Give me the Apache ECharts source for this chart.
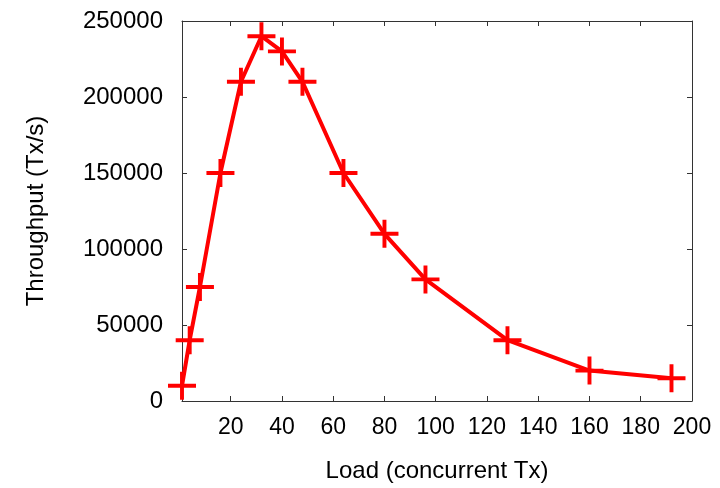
<!DOCTYPE html>
<html>
<head>
<meta charset="utf-8">
<script src="https://cdn.jsdelivr.net/npm/echarts@6/dist/echarts.min.js"></script>
<style>html,body{margin:0;padding:0;background:#fff}#c{width:720px;height:488px}</style>
</head>
<body>
<div id="c"></div>
<script>
const loads = [1, 4, 8, 16, 24, 32, 40, 48, 64, 80, 96, 128, 160, 192];
const throughput = [10000, 40000, 75000, 150000, 210000, 240000, 230000, 210000, 150000, 110000, 80000, 40000, 20000, 15000];
const xTicks = [20, 40, 60, 80, 100, 120, 140, 160, 180, 200];
const xTitle = 'Load (concurrent Tx)';
const yTitle = 'Throughput (Tx/s)';

const font = 'Liberation Sans, Arial, sans-serif';
const axisCol = '#333';
const plusPath = 'path://M-0.07,-0.5 L0.07,-0.5 L0.07,-0.07 L0.5,-0.07 L0.5,0.07 L0.07,0.07 L0.07,0.5 L-0.07,0.5 L-0.07,0.07 L-0.5,0.07 L-0.5,-0.07 L-0.07,-0.07 Z';

const chart = echarts.init(document.getElementById('c'));
const baseX = {
  type: 'value', min: 1, max: 200,
  axisLine: {show: true, onZero: false, lineStyle: {color: axisCol, width: 1}},
  axisTick: {show: true, inside: true, length: 5, customValues: xTicks, lineStyle: {color: axisCol}},
  splitLine: {show: false}
};
const baseY = {
  type: 'value', min: 0, max: 250000, interval: 50000,
  axisLine: {show: true, onZero: false, lineStyle: {color: axisCol, width: 1}},
  axisTick: {show: true, inside: true, length: 5, lineStyle: {color: axisCol}},
  splitLine: {show: false}
};
chart.setOption({
  animation: false,
  backgroundColor: '#fff',
  grid: {left: 182, right: 28, top: 21, bottom: 83, containLabel: false},
  xAxis: [
    Object.assign({}, baseX, {
      position: 'bottom',
      name: xTitle, nameLocation: 'middle', nameGap: 58,
      nameTextStyle: {fontFamily: font, fontSize: 24, color: '#000'},
      axisLabel: {show: true, customValues: xTicks, margin: 15, fontFamily: font, fontSize: 23, color: '#000',
        formatter: v => String(v)}
    }),
    Object.assign({}, baseX, {position: 'top', axisLabel: {show: false}})
  ],
  yAxis: [
    Object.assign({}, baseY, {
      position: 'left',
      name: yTitle, nameLocation: 'middle', nameGap: 134, nameRotate: 90,
      nameTextStyle: {fontFamily: font, fontSize: 24, color: '#000'},
      axisLabel: {show: true, margin: 19, fontFamily: font, fontSize: 24, color: '#000',
        formatter: v => String(v)}
    }),
    Object.assign({}, baseY, {position: 'right', axisLabel: {show: false}})
  ],
  series: [{
    type: 'line',
    data: loads.map((x, i) => [x, throughput[i]]),
    color: '#ff0000',
    lineStyle: {color: '#ff0000', width: 4},
    itemStyle: {color: '#ff0000'},
    symbol: plusPath,
    symbolSize: 28,
    showSymbol: true,
    clip: false
  }]
});
</script>
</body>
</html>
